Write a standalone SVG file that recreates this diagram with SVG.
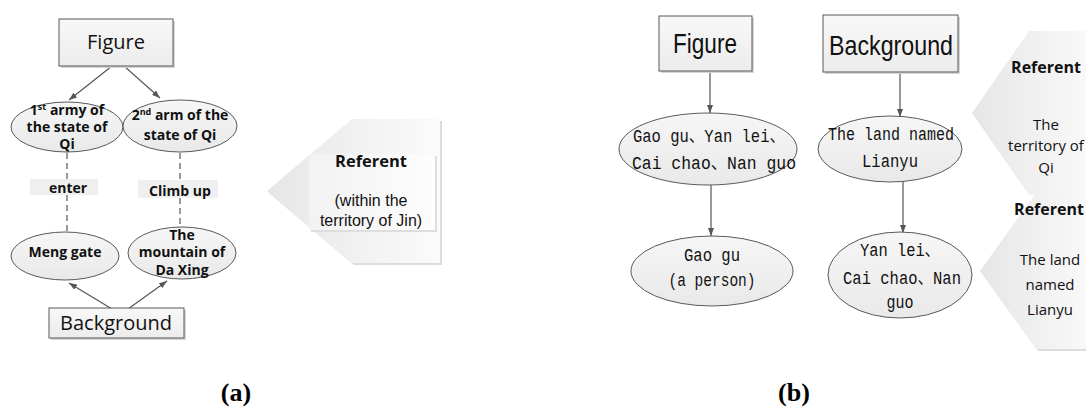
<svg xmlns="http://www.w3.org/2000/svg" width="1086" height="408" viewBox="0 0 1086 408">
<defs>
  <linearGradient id="gBox" x1="0" y1="0" x2="0" y2="1">
    <stop offset="0" stop-color="#f8f8f8"/>
    <stop offset="1" stop-color="#ececec"/>
  </linearGradient>
  <linearGradient id="gEll" x1="0" y1="0" x2="0" y2="1">
    <stop offset="0" stop-color="#f6f6f6"/>
    <stop offset="1" stop-color="#e9e9e9"/>
  </linearGradient>
  <linearGradient id="gRef" x1="0" y1="0" x2="1" y2="0">
    <stop offset="0" stop-color="#e6e6e6"/>
    <stop offset="1" stop-color="#fbfbfb"/>
  </linearGradient>
  <linearGradient id="gInner" x1="0" y1="0" x2="1" y2="0">
    <stop offset="0" stop-color="#f2f2f2"/>
    <stop offset="1" stop-color="#fdfdfd"/>
  </linearGradient>
  <marker id="arr" viewBox="0 0 8 6" refX="8" refY="3" markerWidth="8" markerHeight="6" markerUnits="userSpaceOnUse" orient="auto">
    <path d="M0,0 L8,3 L0,6 z" fill="#555"/>
  </marker>
  <style>
    .box{fill:url(#gBox);stroke:#595959;stroke-width:1}
    .shadow{fill:#d6d6d6}
    .ell{fill:url(#gEll);stroke:#595959;stroke-width:1}
    .conn{stroke:#555;stroke-width:1.2;fill:none;marker-end:url(#arr)}
    .dash{stroke:#555;stroke-width:1.2;fill:none;stroke-dasharray:6 4}
    .ta{font-family:"Open Sans","Liberation Sans",sans-serif;fill:#111;text-anchor:middle}
    .tl{font-family:"Liberation Sans","Open Sans",sans-serif;fill:#111;text-anchor:middle}
    .tb{font-family:"Open Sans","Liberation Sans",sans-serif;font-weight:bold;font-size:14px;fill:#111;text-anchor:middle}
    .tc{font-family:"Liberation Sans","Noto Sans",sans-serif;font-size:28px;fill:#111;text-anchor:middle}
    .tm{font-family:"Liberation Mono","Noto Sans CJK SC",monospace;font-size:18px;fill:#111;text-anchor:middle}
    .lbl{fill:#efefef}
    .ref{fill:url(#gRef)}
    .cap{font-family:"Times New Roman","Liberation Serif",serif;font-weight:bold;font-size:26px;fill:#000;text-anchor:middle}
  </style>
</defs>

<!-- connectors -->
<g id="connectors">
  <line class="conn" x1="112" y1="66" x2="69" y2="100"/>
  <line class="conn" x1="124" y1="66" x2="160" y2="98"/>
  <line class="conn" x1="112" y1="309" x2="69" y2="283"/>
  <line class="conn" x1="128" y1="309" x2="167" y2="281"/>
  <line class="dash" x1="67" y1="153" x2="67" y2="179"/>
  <line class="dash" x1="67" y1="195" x2="67" y2="232"/>
  <line class="dash" x1="180" y1="153" x2="180" y2="180"/>
  <line class="dash" x1="180" y1="198" x2="180" y2="227"/>
  <line class="conn" x1="710" y1="71" x2="710" y2="113"/>
  <line class="conn" x1="711" y1="185" x2="711" y2="236"/>
  <line class="conn" x1="900" y1="72" x2="900" y2="117"/>
  <line class="conn" x1="903" y1="182" x2="903" y2="233"/>
</g>

<!-- (a) -->
<g id="a-figure">
  <rect class="shadow" x="61" y="21" width="114" height="47"/>
  <rect class="box" x="59" y="19" width="114" height="47"/>
  <text class="ta" x="116" y="49" font-size="20">Figure</text>
</g>
<g id="a-army1">
  <ellipse class="ell" cx="67" cy="127" rx="56" ry="25"/>
  <text class="tb" x="67" y="115">1<tspan font-size="9" dy="-5">st</tspan><tspan dy="5"> army of</tspan></text>
  <text class="tb" x="67" y="132">the state of</text>
  <text class="tb" x="67" y="149">Qi</text>
</g>
<g id="a-army2">
  <ellipse class="ell" cx="180" cy="126" rx="57" ry="26"/>
  <text class="tb" x="180" y="120">2<tspan font-size="9" dy="-5">nd</tspan><tspan dy="5"> arm of the</tspan></text>
  <text class="tb" x="180" y="140">state of Qi</text>
</g>
<g id="a-enter">
  <rect class="lbl" x="30" y="179" width="68" height="16"/>
  <text class="tb" x="68" y="193">enter</text>
</g>
<g id="a-climb">
  <rect class="lbl" x="138" y="180" width="80" height="18"/>
  <text class="tb" x="180" y="196">Climb up</text>
</g>
<g id="a-meng">
  <ellipse class="ell" cx="65" cy="256" rx="54" ry="24"/>
  <text class="tb" x="65" y="257">Meng gate</text>
</g>
<g id="a-mountain">
  <ellipse class="ell" cx="182" cy="253" rx="54" ry="26"/>
  <text class="tb" x="182" y="240">The</text>
  <text class="tb" x="182" y="257">mountain of</text>
  <text class="tb" x="182" y="275">Da Xing</text>
</g>
<g id="a-background">
  <rect class="shadow" x="51" y="310" width="135" height="30"/>
  <rect class="box" x="49" y="308" width="135" height="30"/>
  <text class="ta" x="116" y="330" font-size="20">Background</text>
</g>
<g id="a-referent">
  <path d="M269,193 L354,121 L442,121 L442,265 L354,265 z" fill="#dcdcdc"/>
  <path class="ref" d="M267,191 L352,119 L440,119 L440,263 L352,263 z"/>
  <rect x="311" y="156" width="126" height="76" fill="#dedede"/>
  <rect x="309" y="154" width="126" height="76" fill="url(#gInner)"/>
  <text class="ta" x="371" y="167" font-size="16.5" font-weight="bold">Referent</text>
  <text class="tl" x="371" y="206" font-size="16">(within the</text>
  <text class="tl" x="371" y="226" font-size="16">territory of Jin)</text>
</g>
<text class="cap" x="236" y="401">(a)</text>

<!-- (b) -->
<g id="b-figure">
  <rect class="shadow" x="661" y="18" width="93" height="55"/>
  <rect class="box" x="659" y="16" width="93" height="55"/>
  <text class="tc" x="705" y="53" textLength="64" lengthAdjust="spacingAndGlyphs">Figure</text>
</g>
<g id="b-background">
  <rect class="shadow" x="825" y="17" width="135" height="57"/>
  <rect class="box" x="823" y="15" width="135" height="57"/>
  <text class="tc" x="891" y="55" textLength="124" lengthAdjust="spacingAndGlyphs">Background</text>
</g>
<g id="b-figures">
  <ellipse class="ell" cx="708" cy="149" rx="89" ry="36"/>
  <text class="tm" x="709" y="142" textLength="152" lengthAdjust="spacingAndGlyphs">Gao gu、Yan lei、</text>
  <text class="tm" x="714" y="169" textLength="164" lengthAdjust="spacingAndGlyphs">Cai chao、Nan guo</text>
</g>
<g id="b-gaogu">
  <ellipse class="ell" cx="712" cy="271" rx="81" ry="35"/>
  <text class="tm" x="712" y="261" textLength="56" lengthAdjust="spacingAndGlyphs">Gao gu</text>
  <text class="tm" x="712" y="286" textLength="87" lengthAdjust="spacingAndGlyphs">(a person)</text>
</g>
<g id="b-land">
  <ellipse class="ell" cx="890" cy="149" rx="72" ry="33"/>
  <text class="tm" x="891" y="140" textLength="126" lengthAdjust="spacingAndGlyphs">The land named</text>
  <text class="tm" x="890" y="167" textLength="56" lengthAdjust="spacingAndGlyphs">Lianyu</text>
</g>
<g id="b-yanlei">
  <ellipse class="ell" cx="900" cy="275" rx="72" ry="43"/>
  <text class="tm" x="900" y="256" textLength="80" lengthAdjust="spacingAndGlyphs">Yan lei、</text>
  <text class="tm" x="902" y="284" textLength="118" lengthAdjust="spacingAndGlyphs">Cai chao、Nan</text>
  <text class="tm" x="900" y="308" textLength="27" lengthAdjust="spacingAndGlyphs">guo</text>
</g>
<g id="b-referent1">
  <path class="ref" d="M972,113 L1029,31 L1100,31 L1100,195 L1029,195 z"/>
  <text class="ta" x="1046" y="73" font-size="16" font-weight="bold">Referent</text>
  <text class="ta" x="1046" y="130" font-size="15">The</text>
  <text class="ta" x="1046" y="151" font-size="15">territory of</text>
  <text class="ta" x="1046" y="173" font-size="15">Qi</text>
</g>
<g id="b-referent2">
  <path d="M982,273 L1038,195 L1100,195 L1100,351 L1038,351 z" fill="#dcdcdc"/>
  <path class="ref" d="M980,271 L1036,193 L1100,193 L1100,349 L1036,349 z"/>
  <text class="ta" x="1049" y="215" font-size="16" font-weight="bold">Referent</text>
  <text class="ta" x="1050" y="265" font-size="15">The land</text>
  <text class="ta" x="1050" y="290" font-size="15">named</text>
  <text class="ta" x="1050" y="315" font-size="15">Lianyu</text>
</g>
<text class="cap" x="794" y="401">(b)</text>
</svg>
